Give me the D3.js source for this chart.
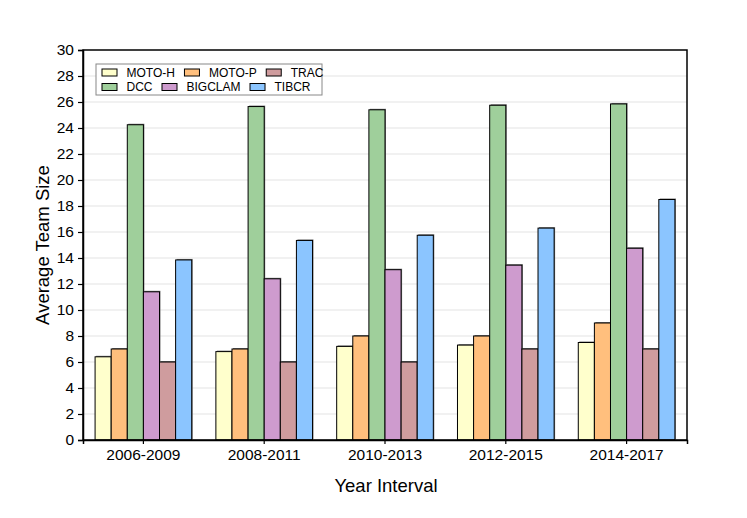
<!DOCTYPE html>
<html>
<head>
<meta charset="utf-8">
<script src="https://cdn.jsdelivr.net/npm/d3@7"></script>
<style>
body{margin:0;background:#fff;}
text{font-family:"Liberation Sans",Arial,sans-serif;}
</style>
</head>
<body>
<svg id="chart" width="747" height="518"></svg>
<script>
const categories = ["2006-2009","2008-2011","2010-2013","2012-2015","2014-2017"];
const seriesNames = ["MOTO-H","MOTO-P","DCC","BIGCLAM","TRAC","TIBCR"];
const motoH   = [6.4, 6.8, 7.2, 7.3, 7.5];
const motoP   = [7.0, 7.0, 8.0, 8.0, 9.0];
const dcc     = [24.25, 25.65, 25.4, 25.75, 25.85];
const bigclam = [11.4, 12.4, 13.1, 13.45, 14.75];
const trac    = [6.0, 6.0, 6.0, 7.0, 7.0];
const tibcr   = [13.85, 15.35, 15.75, 16.3, 18.5];
const yTicks  = [0,2,4,6,8,10,12,14,16,18,20,22,24,26,28,30];
const colors  = ["#FFFFCC","#FFBF7D","#9FCF9B","#CE9BCE","#CF9C9E","#8BC5FF"];

const seriesValues = [motoH, motoP, dcc, bigclam, trac, tibcr];

const svg = d3.select("#chart");
const L = 83, R = 687, T = 50, B = 440;

const x = d3.scaleBand().domain(categories).range([L, R]).paddingInner(0).paddingOuter(0);
const bw = x.bandwidth();
const xs = d3.scaleBand().domain(seriesNames).range([bw*0.1, bw*0.9]).padding(0);
const y = d3.scaleLinear().domain([0, 30]).range([B, T]);

// gridlines
svg.append("g").selectAll("line").data(yTicks.filter(d => d > 0 && d < 30)).join("line")
  .attr("x1", L).attr("x2", R)
  .attr("y1", d => y(d)).attr("y2", d => y(d))
  .attr("stroke", "#e3e3e3").attr("stroke-width", 1);

// bars
const groups = svg.append("g").selectAll("g").data(categories).join("g")
  .attr("transform", d => `translate(${x(d)},0)`);

groups.each(function(cat, ci) {
  const g = d3.select(this);
  const data = seriesNames.map((s, si) => ({s, si, v: seriesValues[si][ci]}));
  g.selectAll("rect.sh").data(data).join("rect").attr("class","sh")
    .attr("x", d => xs(d.s) + 1)
    .attr("y", d => y(d.v) - 1)
    .attr("width", xs.bandwidth())
    .attr("height", d => B - y(d.v))
    .attr("fill", "#7a7a7a");
  g.selectAll("rect.bar").data(data).join("rect").attr("class","bar")
    .attr("x", d => xs(d.s))
    .attr("y", d => y(d.v))
    .attr("width", xs.bandwidth())
    .attr("height", d => B - y(d.v))
    .attr("fill", d => colors[d.si])
    .attr("stroke", "#000").attr("stroke-width", 1);
});

// frame
svg.append("rect").attr("x", L).attr("y", T).attr("width", R - L).attr("height", B - T)
  .attr("fill", "none").attr("stroke", "#000").attr("stroke-width", 1.5);

// axes
const yAxis = d3.axisLeft(y).tickValues(yTicks).tickSize(5).tickPadding(4);
const ya = svg.append("g").attr("transform", `translate(${L},0)`).call(yAxis);
ya.select(".domain").attr("stroke-width", 1.5);
ya.selectAll("text").attr("font-size", 15.5).attr("fill", "#000")
  .style("font-family", '"Liberation Sans",Arial,sans-serif');
ya.selectAll(".tick line").attr("stroke-width", 1.2);

const xAxis = d3.axisBottom(x).tickSize(4).tickPadding(5);
const xa = svg.append("g").attr("transform", `translate(0,${B})`).call(xAxis);
xa.select(".domain").attr("stroke-width", 1.5);
xa.selectAll("text").attr("font-size", 15.5).attr("fill", "#000")
  .style("font-family", '"Liberation Sans",Arial,sans-serif');
xa.selectAll(".tick line").attr("stroke-width", 1.2);

// titles
svg.append("text").attr("x", (L + R) / 2 + 1).attr("y", 492)
  .attr("text-anchor", "middle").attr("font-size", 18.5).text("Year Interval");
svg.append("text").attr("transform", `translate(49,${(T + B) / 2}) rotate(-90)`)
  .attr("text-anchor", "middle").attr("font-size", 18.5).text("Average Team Size");

// legend
const leg = svg.append("g");
leg.append("rect").attr("x", 96).attr("y", 64).attr("width", 226).attr("height", 31)
  .attr("fill", "#fff").attr("stroke", "#888").attr("stroke-width", 1);
const rows = [[0,1,4],[2,3,5]];
const rowY = [72.5, 87];
rows.forEach((row, ri) => {
  let cx = 102;
  row.forEach(si => {
    leg.append("rect").attr("x", cx).attr("y", rowY[ri] - 3.5).attr("width", 15).attr("height", 7)
      .attr("fill", colors[si]).attr("stroke", "#000").attr("stroke-width", 1);
    const t = leg.append("text").attr("x", cx + 24.5).attr("y", rowY[ri] + 4.2)
      .attr("font-size", 12).text(seriesNames[si]);
    cx += 24.5 + t.node().getComputedTextLength() + 9.5;
  });
});
</script>
</body>
</html>
